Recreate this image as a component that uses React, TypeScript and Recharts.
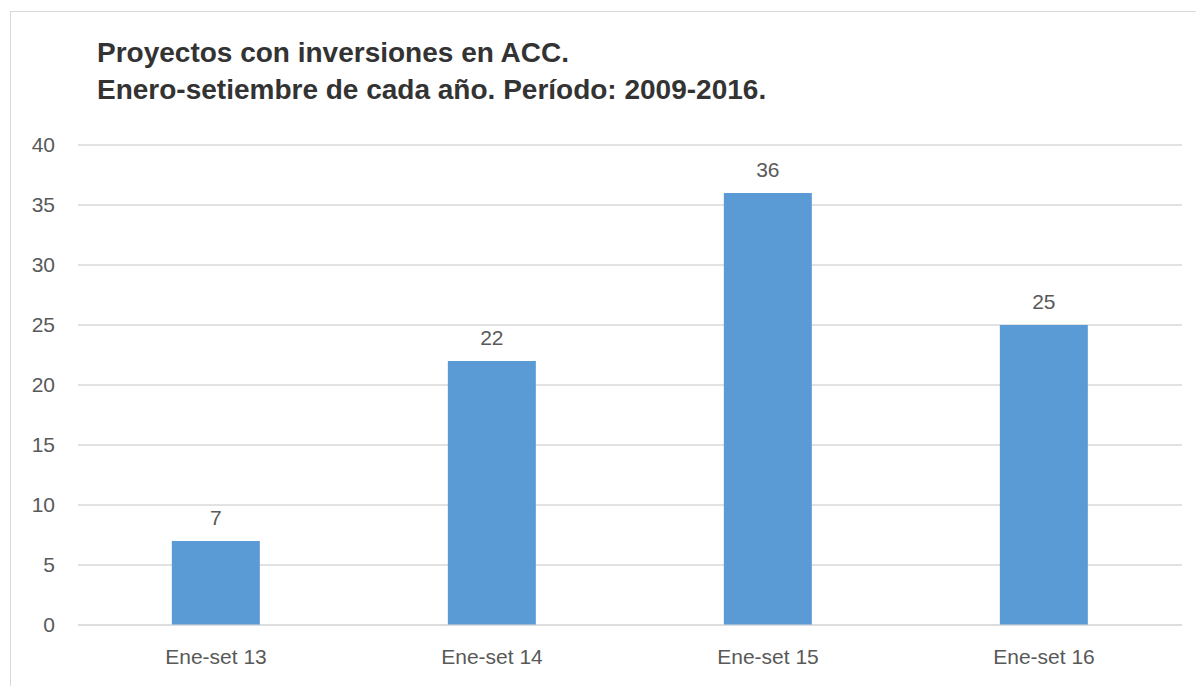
import { BarChart, Bar, XAxis, YAxis, CartesianGrid, LabelList } from 'recharts';

const categories = ['Ene-set 13', 'Ene-set 14', 'Ene-set 15', 'Ene-set 16'];
const proyectos = [7, 22, 36, 25];
const yTicks = [0, 5, 10, 15, 20, 25, 30, 35, 40];

const data = categories.map((name, i) => ({ name, proyectos: proyectos[i] }));

const font = '"Liberation Sans", Arial, sans-serif';

export default function App() {
  return (
    <div style={{ position: 'absolute', left: 0, top: 0, width: 1196, height: 686, background: '#fff', overflow: 'hidden', fontFamily: font }}>
      <div style={{ position: 'absolute', left: 10, top: 11, width: 1300, height: 800, border: '1px solid #d9d9d9' }} />
      <div style={{ position: 'absolute', left: 97, top: 34, fontSize: 28, fontWeight: 'bold', color: '#333', lineHeight: '37px' }}>
        <div>Proyectos con inversiones en ACC.</div>
        <div>Enero-setiembre de cada año. Período: 2009-2016.</div>
      </div>
      <div style={{ position: 'absolute', left: 0, top: 0 }}>
        <BarChart width={1196} height={686} data={data} margin={{ top: 145, right: 14, bottom: 31, left: 18 }} barCategoryGap="34%">
          <CartesianGrid vertical={false} stroke="#d9d9d9" strokeWidth={1.3} />
          <XAxis dataKey="name" height={30} axisLine={{ stroke: '#d9d9d9' }} tickLine={false} tickSize={0} tickMargin={24} tick={{ fill: '#595959', fontSize: 21, fontFamily: font }} />
          <YAxis width={60} domain={[0, 40]} ticks={yTicks} axisLine={false} tickLine={false} tickSize={0} tickMargin={23} tick={{ fill: '#595959', fontSize: 21, fontFamily: font }} />
          <Bar dataKey="proyectos" fill="#5b9bd5" isAnimationActive={false}>
            <LabelList dataKey="proyectos" position="top" offset={16} fill="#595959" fontSize={21} fontFamily={font} />
          </Bar>
        </BarChart>
      </div>
    </div>
  );
}
